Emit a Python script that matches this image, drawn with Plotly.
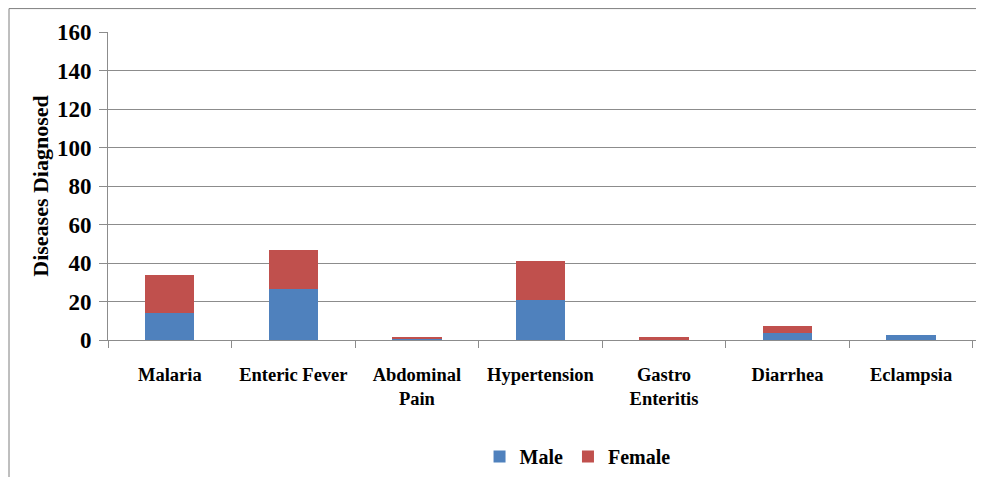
import plotly.graph_objects as go

categories = ["Malaria", "Enteric Fever", "Abdominal<br>Pain", "Hypertension",
              "Gastro<br>Enteritis", "Diarrhea", "Eclampsia"]
male = [14, 26.5, 0.7, 21, 0.5, 3.5, 2.7]
female = [19.8, 20.5, 1.0, 20, 1.0, 4.0, 0]

FONT = "Liberation Serif"

fig = go.Figure()
fig.add_trace(go.Bar(name="Male", x=categories, y=male, marker_color="#4F81BD",
                     marker_line_width=0))
fig.add_trace(go.Bar(name="Female", x=categories, y=female, marker_color="#C0504D",
                     marker_line_width=0))

fig.update_layout(
    barmode="stack",
    bargap=0.6,
    width=976, height=469,
    margin=dict(l=100, r=0, t=24, b=137),
    paper_bgcolor="white", plot_bgcolor="white",
    font=dict(family=FONT, size=18, color="black"),
    showlegend=True,
    legend=dict(orientation="h", x=0.536, xanchor="center", y=-0.315, yanchor="top",
                font=dict(family=FONT, size=20, color="black", weight="bold"),
                itemwidth=30, traceorder="normal"),
    xaxis=dict(
        type="category",
        range=[-0.5, 6.59],
        showline=True, linecolor="#8c8c8c", linewidth=1,
        ticks="outside", tickson="boundaries", ticklen=7, tickcolor="#8c8c8c",
        showgrid=False,
        tickfont=dict(family=FONT, size=18.5, color="black", weight="bold"),
        ticklabelstandoff=18,
    ),
    yaxis=dict(
        range=[0, 160], dtick=20,
        showline=True, linecolor="#8c8c8c", linewidth=1,
        ticks="outside", ticklen=8, tickcolor="#8c8c8c",
        showgrid=True, gridcolor="#8c8c8c", gridwidth=1,
        zeroline=False,
        tickfont=dict(family=FONT, size=23, color="black", weight="bold"),
        ticklabelstandoff=3,
        title=dict(text="Diseases Diagnosed", standoff=2,
                   font=dict(family=FONT, size=22, color="black", weight="bold")),
    ),
    shapes=[
        dict(type="line", xref="paper", yref="paper",
             x0=-0.113, x1=-0.113, y0=-0.45, y1=1.076,
             line=dict(color="#7f7f7f", width=1), layer="below"),
        dict(type="line", xref="paper", yref="paper",
             x0=-0.113, x1=1.0, y0=1.076, y1=1.076,
             line=dict(color="#7f7f7f", width=1), layer="below"),
    ],
)

fig.write_html("out.html")
